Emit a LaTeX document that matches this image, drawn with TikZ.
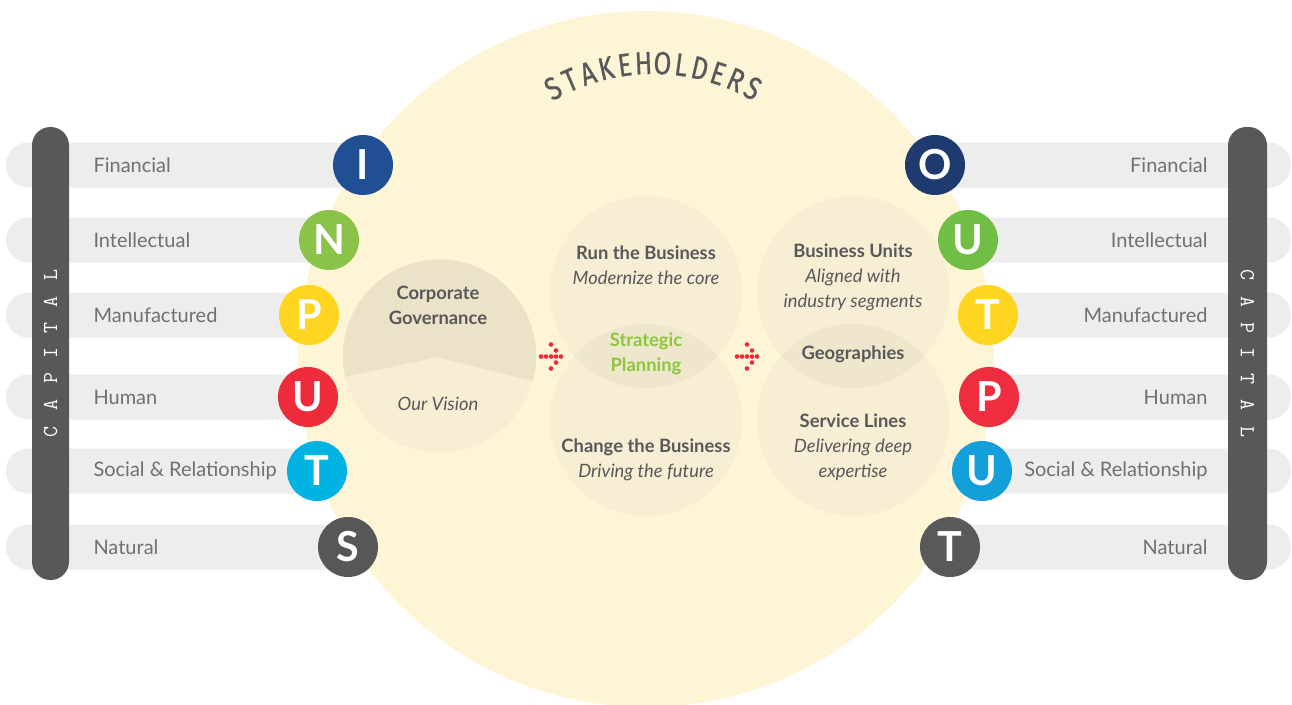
\documentclass[tikz,border=0pt]{standalone}
\usepackage{fontspec}
\setmainfont{Lato}
\newfontfamily\stakefont{Fira Sans}[FakeStretch=0.8,FakeBold=0.6]
\usetikzlibrary{positioning}

\definecolor{stakeYellow}{HTML}{FEF5D7}
\definecolor{innerFill}{HTML}{F7EED4}
\definecolor{lensFill}{HTML}{EEE7CB}
\definecolor{govTop}{HTML}{EAE3C8}
\definecolor{barGrey}{HTML}{EDEDED}
\definecolor{capGrey}{HTML}{58585A}
\definecolor{labelGrey}{HTML}{707072}
\definecolor{textDark}{HTML}{58585A}
\definecolor{planGreen}{HTML}{8CC63F}
\definecolor{dotRed}{HTML}{EE2A3B}
\definecolor{inBlue}{HTML}{214F94}
\definecolor{inGreen}{HTML}{8BC34A}
\definecolor{inYellow}{HTML}{FED520}
\definecolor{inRed}{HTML}{EE2B3A}
\definecolor{inCyan}{HTML}{00B3E3}
\definecolor{inGrey}{HTML}{575757}
\definecolor{outNavy}{HTML}{1E3A6E}
\definecolor{outGreen}{HTML}{71BE44}
\definecolor{outYellow}{HTML}{FED51F}
\definecolor{outRed}{HTML}{EE2E40}
\definecolor{outBlue}{HTML}{139FDA}
\definecolor{outGrey}{HTML}{58595B}

\tikzset{every picture/.style={line width=0.75pt}}
\tikzset{
  capbar/.style={fill=capGrey, rounded corners=13.8pt},
  rowbar/.style={fill=barGrey, rounded corners=16.8pt},
  lettercirc/.style={circle, minimum size=45pt, inner sep=0pt, text=white, font=\bfseries\fontsize{31}{31}\selectfont},
  rowlabel/.style={inner sep=0pt, text=labelGrey, font=\fontsize{15}{18}\selectfont},
  blocktext/.style={align=center, inner sep=0pt, text=textDark, font=\fontsize{13.8}{18.75}\selectfont},
  capletter/.style={inner sep=0pt, text=white, font=\ttfamily\fontsize{16}{16}\selectfont},
  stakeletter/.style={inner sep=0pt, text=textDark, font=\stakefont\fontsize{24}{24}\selectfont},
  innercirc/.style={fill=innerFill},
  reddot/.style={fill=dotRed},
}

\begin{document}
\begin{tikzpicture}[x=0.75pt,y=0.75pt,yscale=-1,xscale=1]
%set diagram left start at 0, and has height of 704
\fill[white] (0,0) rectangle (1292,704);
\useasboundingbox (0,0) rectangle (1292,704);

%Shape: Circle (stakeholders)
\fill[stakeYellow] (646,359) circle (348);

%Shape: Rectangle (input rows)
\fill[rowbar] (6,142.5) rectangle (363,187.5);
\fill[rowbar] (6,217.5) rectangle (329,262.5);
\fill[rowbar] (6,292.5) rectangle (309,337.5);
\fill[rowbar] (6,374.5) rectangle (308,419.5);
\fill[rowbar] (6,448.5) rectangle (317,493.5);
\fill[rowbar] (6,524.5) rectangle (348,569.5);
%Shape: Rectangle (output rows)
\fill[rowbar] (935,142.5) rectangle (1291,187.5);
\fill[rowbar] (968,217.5) rectangle (1291,262.5);
\fill[rowbar] (988,292.5) rectangle (1291,337.5);
\fill[rowbar] (989,374.5) rectangle (1291,419.5);
\fill[rowbar] (982,448.5) rectangle (1291,493.5);
\fill[rowbar] (950,524.5) rectangle (1291,569.5);

%Shape: Rectangle (capital bars)
\fill[capbar] (32,127) rectangle (69,580);
\fill[capbar] (1228,127) rectangle (1267,580);

%Shape: Circle (corporate governance)
\fill[innercirc] (439.5,356) circle (96.5);
\begin{scope}
\clip (439.5,356) circle (96.5);
\fill[govTop] (340,255) -- (540,255) -- (540,383) -- (437,357) -- (340,378) -- cycle;
\end{scope}

%Shape: Circle (run / change)
\fill[innercirc] (646,292) circle (96);
\fill[innercirc] (646,420) circle (96);
\begin{scope}
\clip (646,292) circle (96);
\fill[lensFill] (646,420) circle (96);
\end{scope}

%Shape: Circle (units / service lines)
\fill[innercirc] (853,292) circle (96);
\fill[innercirc] (853,420) circle (96);
\begin{scope}
\clip (853,292) circle (96);
\fill[lensFill] (853,420) circle (96);
\end{scope}

%Dotted Arrow (left)
\fill[reddot] (541,356.5) circle (2.3);
\fill[reddot] (546,356.5) circle (2.3);
\fill[reddot] (551,356.5) circle (2.3);
\fill[reddot] (556,356.5) circle (2.3);
\fill[reddot] (561,356.5) circle (2.3);
\fill[reddot] (556,350.5) circle (2.3);
\fill[reddot] (551,344.5) circle (2.3);
\fill[reddot] (556,362.5) circle (2.3);
\fill[reddot] (551,368.5) circle (2.3);
%Dotted Arrow (right)
\fill[reddot] (737,356.5) circle (2.3);
\fill[reddot] (742,356.5) circle (2.3);
\fill[reddot] (747,356.5) circle (2.3);
\fill[reddot] (752,356.5) circle (2.3);
\fill[reddot] (757,356.5) circle (2.3);
\fill[reddot] (752,350.5) circle (2.3);
\fill[reddot] (747,344.5) circle (2.3);
\fill[reddot] (752,362.5) circle (2.3);
\fill[reddot] (747,368.5) circle (2.3);

% Letter Nodes (INPUTS)
\node[lettercirc, fill=inBlue] (inI) at (363,165) {I};
\node[lettercirc, fill=inGreen] (inN) at (329,240) {N};
\node[lettercirc, fill=inYellow] (inP) at (309,315) {P};
\node[lettercirc, fill=inRed] (inU) at (308,397) {U};
\node[lettercirc, fill=inCyan] (inT) at (317,471) {T};
\node[lettercirc, fill=inGrey] (inS) at (348,547) {S};
% Letter Nodes (OUTPUTS)
\node[lettercirc, fill=outNavy] (outO) at (935,165) {O};
\node[lettercirc, fill=outGreen] (outU) at (968,240) {U};
\node[lettercirc, fill=outYellow] (outT) at (988,315) {T};
\node[lettercirc, fill=outRed] (outP) at (989,397) {P};
\node[lettercirc, fill=outBlue] (outUb) at (982,471) {U};
\node[lettercirc, fill=outGrey] (outTb) at (950,547) {T};

% Text Node (input labels)
\node[rowlabel, anchor=west] (inFin) at (93,165) {Financial};
\node[rowlabel, anchor=west] (inInt) at (93,240) {Intellectual};
\node[rowlabel, anchor=west] (inMan) at (93,315) {Manufactured};
\node[rowlabel, anchor=west] (inHum) at (93,397) {Human};
\node[rowlabel, anchor=west] (inSoc) at (93,471) {Social \& Relationship};
\node[rowlabel, anchor=west] (inNat) at (93,547) {Natural};
% Text Node (output labels)
\node[rowlabel, anchor=east] (outFin) at (1208,165) {Financial};
\node[rowlabel, anchor=east] (outInt) at (1208,240) {Intellectual};
\node[rowlabel, anchor=east] (outMan) at (1208,315) {Manufactured};
\node[rowlabel, anchor=east] (outHum) at (1208,397) {Human};
\node[rowlabel, anchor=east] (outSoc) at (1208,471) {Social \& Relationship};
\node[rowlabel, anchor=east] (outNat) at (1208,547) {Natural};

% Text Node (capital, left)
\node[capletter, rotate=90] (capL1) at (50.5,432) {C};
\node[capletter, rotate=90] (capL2) at (50.5,405) {A};
\node[capletter, rotate=90] (capL3) at (50.5,378) {P};
\node[capletter, rotate=90] (capL4) at (50.5,353) {I};
\node[capletter, rotate=90] (capL5) at (50.5,328) {T};
\node[capletter, rotate=90] (capL6) at (50.5,302) {A};
\node[capletter, rotate=90] (capL7) at (50.5,275) {L};
% Text Node (capital, right)
\node[capletter, rotate=-90] (capR1) at (1247.5,275) {C};
\node[capletter, rotate=-90] (capR2) at (1247.5,302) {A};
\node[capletter, rotate=-90] (capR3) at (1247.5,328) {P};
\node[capletter, rotate=-90] (capR4) at (1247.5,353) {I};
\node[capletter, rotate=-90] (capR5) at (1247.5,379) {T};
\node[capletter, rotate=-90] (capR6) at (1247.5,405) {A};
\node[capletter, rotate=-90] (capR7) at (1247.5,432) {L};

% Text Node (stakeholders arc)
\node[stakeletter, rotate=28.4] (stk1) at (553.1,88.3) {S};
\node[stakeletter, rotate=23.24] (stk2) at (570.1,80.0) {T};
\node[stakeletter, rotate=18.07] (stk3) at (587.9,73.4) {A};
\node[stakeletter, rotate=12.91] (stk4) at (606.1,68.3) {K};
\node[stakeletter, rotate=7.74] (stk5) at (624.7,64.9) {E};
\node[stakeletter, rotate=2.58] (stk6) at (643.5,63.2) {H};
\node[stakeletter, rotate=-2.58] (stk7) at (662.5,63.2) {O};
\node[stakeletter, rotate=-7.74] (stk8) at (681.3,64.9) {L};
\node[stakeletter, rotate=-12.91] (stk9) at (699.9,68.3) {D};
\node[stakeletter, rotate=-18.07] (stk10) at (718.1,73.4) {E};
\node[stakeletter, rotate=-23.24] (stk11) at (735.9,80.0) {R};
\node[stakeletter, rotate=-28.4] (stk12) at (752.9,88.3) {S};

% Text Node (circles)
\node[blocktext] (govText) at (438,305.5) {{\bfseries Corporate}\\{\bfseries Governance}};
\node[blocktext] (visionText) at (438,404) {\itshape Our Vision};
\node[blocktext] (runText) at (646,265.5) {{\bfseries Run the Business}\\{\itshape Modernize the core}};
\node[blocktext, text=planGreen] (planText) at (646,353.5) {{\bfseries Strategic}\\{\bfseries Planning}};
\node[blocktext] (changeText) at (646,460) {{\bfseries Change the Business}\\{\itshape Driving the future}};
\node[blocktext] (unitsText) at (853,277.5) {{\bfseries Business Units}\\{\itshape Aligned with}\\{\itshape industry segments}};
\node[blocktext] (geoText) at (853,354) {\bfseries Geographies};
\node[blocktext] (serviceText) at (853,447.5) {{\bfseries Service Lines}\\{\itshape Delivering deep}\\{\itshape expertise}};

\end{tikzpicture}
\end{document}
